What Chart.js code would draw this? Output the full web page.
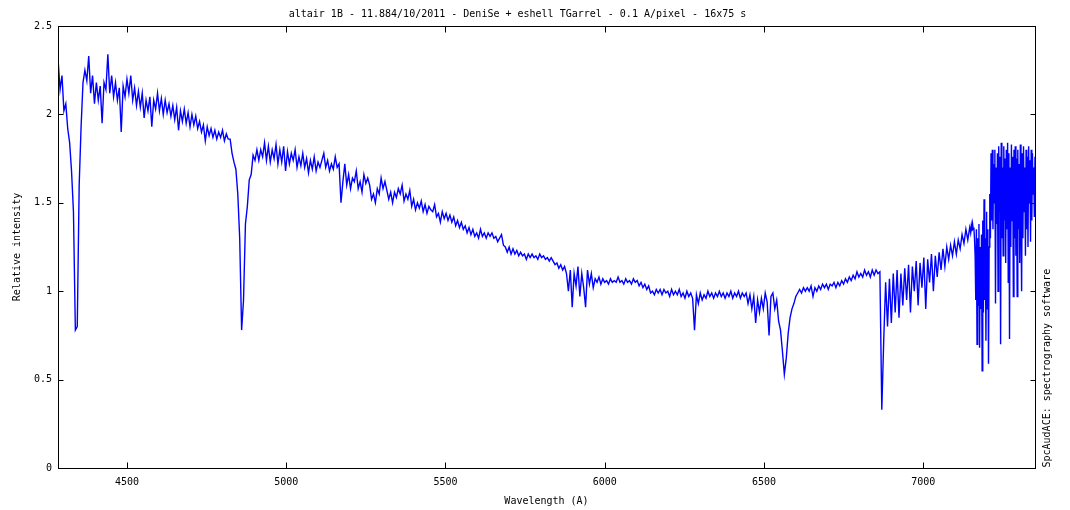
<!DOCTYPE html>
<html>
<head>
<meta charset="utf-8">
<title>altair 1B spectrum</title>
<script src="https://cdn.jsdelivr.net/npm/chart.js@4.4.1/dist/chart.umd.min.js"></script>
<style>
  html, body { margin: 0; padding: 0; background: #fff; }
  #wrap { width: 1070px; height: 510px; }
</style>
</head>
<body>
<div id="wrap"><canvas id="spec" width="1070" height="510"></canvas></div>
<script>
// ── Data ───────────────────────────────────────────────
const titleText = 'altair 1B - 11.884/10/2011 - DeniSe + eshell TGarrel - 0.1 A/pixel - 16x75 s';
const xTitle = 'Wavelength (A)';
const yTitle = 'Relative intensity';
const sideNote = 'SpcAudACE: spectrography software';

const xRange = [4283.5, 7351];
const yRange = [0, 2.5];
const xTickValues = [4500, 5000, 5500, 6000, 6500, 7000];
const yTickValues = [0, 0.5, 1, 1.5, 2, 2.5];

// blue/visible part: 4284 .. 7146 A, one sample every 6 A
const lambdaStart = 4284;
const lambdaStep = 6;
const flux = [
  2.30, 2.14, 2.22, 2.02, 2.06, 1.92, 1.84, 1.68, 1.45, 0.78,
  0.80, 1.60, 1.93, 2.18, 2.25, 2.19, 2.33, 2.12, 2.22, 2.06,
  2.18, 2.08, 2.16, 1.95, 2.18, 2.14, 2.34, 2.12, 2.22, 2.10,
  2.18, 2.08, 2.15, 1.90, 2.16, 2.10, 2.20, 2.12, 2.22, 2.08,
  2.15, 2.05, 2.13, 2.04, 2.12, 1.98, 2.08, 2.02, 2.10, 1.93,
  2.08, 2.03, 2.12, 2.02, 2.09, 2.00, 2.08, 2.01, 2.06, 1.99,
  2.05, 1.97, 2.04, 1.91, 2.02, 1.96, 2.03, 1.95, 2.01, 1.93,
  2.00, 1.94, 1.99, 1.92, 1.96, 1.90, 1.94, 1.85, 1.93, 1.88,
  1.92, 1.87, 1.91, 1.86, 1.90, 1.87, 1.91, 1.85, 1.89, 1.86,
  1.86, 1.78, 1.73, 1.69, 1.55, 1.30, 0.78, 0.95, 1.38, 1.48,
  1.63, 1.66, 1.77, 1.74, 1.80, 1.74, 1.80, 1.76, 1.84, 1.74,
  1.82, 1.73, 1.80, 1.75, 1.83, 1.72, 1.80, 1.73, 1.82, 1.68,
  1.79, 1.72, 1.78, 1.74, 1.80, 1.70, 1.76, 1.71, 1.78, 1.70,
  1.75, 1.67, 1.74, 1.69, 1.76, 1.68, 1.73, 1.70, 1.74, 1.78,
  1.70, 1.74, 1.68, 1.72, 1.69, 1.76, 1.70, 1.72, 1.50, 1.62,
  1.72, 1.60, 1.66, 1.58, 1.64, 1.62, 1.68, 1.58, 1.62, 1.56,
  1.66, 1.61, 1.64, 1.60, 1.52, 1.55, 1.50, 1.58, 1.55, 1.64,
  1.58, 1.62, 1.57, 1.52, 1.56, 1.50, 1.56, 1.53, 1.58, 1.55,
  1.60, 1.51, 1.55, 1.52, 1.57, 1.48, 1.52, 1.46, 1.50, 1.47,
  1.51, 1.45, 1.49, 1.44, 1.48, 1.46, 1.45, 1.49, 1.42, 1.44,
  1.39, 1.45, 1.41, 1.44, 1.40, 1.43, 1.39, 1.42, 1.37, 1.40,
  1.36, 1.39, 1.35, 1.37, 1.33, 1.36, 1.32, 1.35, 1.31, 1.33,
  1.30, 1.35, 1.31, 1.33, 1.30, 1.33, 1.31, 1.33, 1.30, 1.31,
  1.28, 1.30, 1.32, 1.26, 1.25, 1.22, 1.25, 1.21, 1.24, 1.21,
  1.23, 1.20, 1.22, 1.20, 1.21, 1.18, 1.21, 1.19, 1.21, 1.19,
  1.20, 1.18, 1.21, 1.19, 1.20, 1.18, 1.19, 1.17, 1.19, 1.17,
  1.15, 1.16, 1.13, 1.15, 1.12, 1.14, 1.10, 1.00, 1.12, 0.91,
  1.10, 1.03, 1.14, 0.97, 1.10, 1.02, 0.91, 1.12, 1.04, 1.10,
  1.02, 1.07, 1.05, 1.08, 1.04, 1.07, 1.05, 1.06, 1.04, 1.07,
  1.05, 1.06, 1.05, 1.08, 1.05, 1.06, 1.04, 1.07, 1.05, 1.06,
  1.04, 1.07, 1.05, 1.06, 1.03, 1.05, 1.02, 1.04, 1.01, 1.03,
  0.99, 1.00, 0.98, 1.01, 0.99, 1.01, 0.98, 1.01, 0.99, 1.00,
  0.97, 1.01, 0.98, 1.00, 0.98, 1.01, 0.97, 0.99, 0.96, 1.00,
  0.97, 0.99, 0.96, 0.78, 0.98, 0.93, 0.99, 0.95, 0.98, 0.96,
  1.00, 0.97, 0.99, 0.96, 0.99, 0.97, 1.00, 0.97, 0.99, 0.96,
  0.99, 0.97, 1.00, 0.96, 0.99, 0.97, 1.00, 0.96, 0.99, 0.97,
  0.99, 0.93, 0.98, 0.90, 0.97, 0.82, 0.95, 0.88, 0.96, 0.90,
  0.99, 0.94, 0.75, 0.97, 0.99, 0.90, 0.95, 0.83, 0.78, 0.66,
  0.53, 0.62, 0.76, 0.85, 0.90, 0.93, 0.97, 0.99, 1.01, 0.99,
  1.02, 1.00, 1.02, 1.00, 1.03, 0.97, 1.02, 1.00, 1.03, 1.01,
  1.04, 1.02, 1.04, 1.01, 1.04, 1.03, 1.05, 1.02, 1.05, 1.03,
  1.06, 1.04, 1.07, 1.05, 1.08, 1.06, 1.09, 1.07, 1.11, 1.08,
  1.10, 1.08, 1.12, 1.09, 1.11, 1.08, 1.12, 1.09, 1.12, 1.10,
  1.11, 0.33, 0.72, 1.05, 0.80, 1.07, 0.82, 1.10, 0.88, 1.12,
  0.85, 1.10, 0.92, 1.13, 0.95, 1.15, 0.88, 1.14, 1.00, 1.17,
  0.92, 1.16, 1.02, 1.19, 0.90, 1.18, 1.05, 1.21, 1.00, 1.20,
  1.08, 1.22, 1.12, 1.24, 1.14, 1.25, 1.18, 1.26, 1.20, 1.28,
  1.21, 1.29, 1.24, 1.32, 1.27, 1.35, 1.29, 1.36
];

// red end (telluric water band): 7149 .. 7351 A, one sample every 2 A
const redStart = 7149;
const redStep = 2;
const fluxRed = [
  1.33, 1.37, 1.34, 1.38, 1.35, 1.36, 1.30, 1.20,
  0.95, 1.35, 0.70, 1.30, 0.92, 1.38, 0.68, 1.25, 0.90, 1.32, 0.55,
  1.40, 0.88, 1.52, 0.95, 1.30, 0.72, 1.45, 0.90, 1.35, 0.59, 1.25,
  1.55, 1.30, 1.78, 1.40, 1.80, 1.35, 1.72, 1.50, 1.80, 0.93,
  1.70, 1.38, 1.78, 1.00, 1.82, 1.45,
  1.76, 0.70, 1.84, 1.30, 1.70, 1.20, 1.82, 1.40, 1.75, 1.16,
  1.80, 1.35, 1.84, 1.05, 1.78, 0.73, 1.70, 1.25, 1.83, 1.40,
  1.76, 0.97, 1.80,
  1.30, 1.82, 1.20, 1.75, 0.97, 1.80, 1.35, 1.72, 1.16, 1.83,
  1.40, 1.00, 1.78, 1.30, 1.82, 1.45, 1.70, 1.20, 1.80, 1.35,
  1.76, 1.25, 1.82, 1.50, 1.74, 1.28, 1.80, 1.40, 1.78, 1.55,
  1.70, 1.42, 1.76
];

// ── Plot setup ─────────────────────────────────────────
const FONT = { family: "'DejaVu Sans Mono', monospace", size: 10 };
Chart.defaults.font.family = FONT.family;
Chart.defaults.font.size = FONT.size;
Chart.defaults.color = '#000';

const points = [
  ...flux.map((v, i) => ({ x: lambdaStart + i * lambdaStep, y: v })),
  ...fluxRed.map((v, i) => ({ x: redStart + i * redStep, y: v })),
];

// frame with inward ticks on all four sides, plus the vertical side note
const framePlugin = {
  id: 'frame',
  afterDraw(chart) {
    const { ctx, chartArea: a, scales: { x, y } } = chart;
    const L = Math.round(a.left) + 0.5, R = Math.round(a.right) + 0.5;
    const T = Math.round(a.top) + 0.5, B = Math.round(a.bottom) + 0.5;
    ctx.save();
    ctx.strokeStyle = '#000';
    ctx.lineWidth = 1;
    ctx.strokeRect(L, T, R - L, B - T);
    ctx.beginPath();
    xTickValues.forEach(v => {
      const px = Math.round(x.getPixelForValue(v)) + 0.5;
      ctx.moveTo(px, B); ctx.lineTo(px, B - 6);
      ctx.moveTo(px, T); ctx.lineTo(px, T + 6);
    });
    yTickValues.forEach(v => {
      const py = Math.round(y.getPixelForValue(v)) + 0.5;
      ctx.moveTo(L, py); ctx.lineTo(L + 5, py);
      ctx.moveTo(R, py); ctx.lineTo(R - 5, py);
    });
    ctx.stroke();

    ctx.translate(1047, B - 1);
    ctx.rotate(-Math.PI / 2);
    ctx.fillStyle = '#000';
    ctx.font = `${FONT.size}px ${FONT.family}`;
    ctx.textAlign = 'left';
    ctx.textBaseline = 'middle';
    ctx.fillText(sideNote, 0, 0);
    ctx.restore();
  }
};

new Chart(document.getElementById('spec'), {
  type: 'line',
  data: {
    datasets: [{
      data: points,
      borderColor: '#0000ff',
      borderWidth: 1.4,
      pointRadius: 0,
      tension: 0,
      fill: false,
    }]
  },
  options: {
    responsive: false,
    animation: false,
    layout: { padding: { left: 0, right: 35, top: 0, bottom: 0 } },
    plugins: {
      legend: { display: false },
      tooltip: { enabled: false },
      title: {
        display: true,
        text: titleText,
        color: '#000',
        font: { family: FONT.family, size: 10, weight: 'normal' },
        padding: { top: 8, bottom: 6 },
      }
    },
    scales: {
      x: {
        type: 'linear',
        min: xRange[0], max: xRange[1],
        grid: { display: false, drawTicks: false },
        border: { display: false },
        afterBuildTicks: s => { s.ticks = xTickValues.map(v => ({ value: v })); },
        afterFit: s => { s.height = 42; },
        ticks: { autoSkip: false, maxRotation: 0, padding: 8, color: '#000', callback: v => String(v) },
        title: { display: true, text: xTitle, color: '#000', padding: { top: 0, bottom: 3 } },
      },
      y: {
        type: 'linear',
        min: yRange[0], max: yRange[1],
        grid: { display: false, drawTicks: false },
        border: { display: false },
        afterBuildTicks: s => { s.ticks = yTickValues.map(v => ({ value: v })); },
        afterFit: s => { s.width = 58; },
        ticks: { autoSkip: false, padding: 6, color: '#000', callback: v => String(v) },
        title: { display: true, text: yTitle, color: '#000', padding: { top: 11, bottom: 0 } },
      }
    }
  },
  plugins: [framePlugin]
});
</script>
</body>
</html>
